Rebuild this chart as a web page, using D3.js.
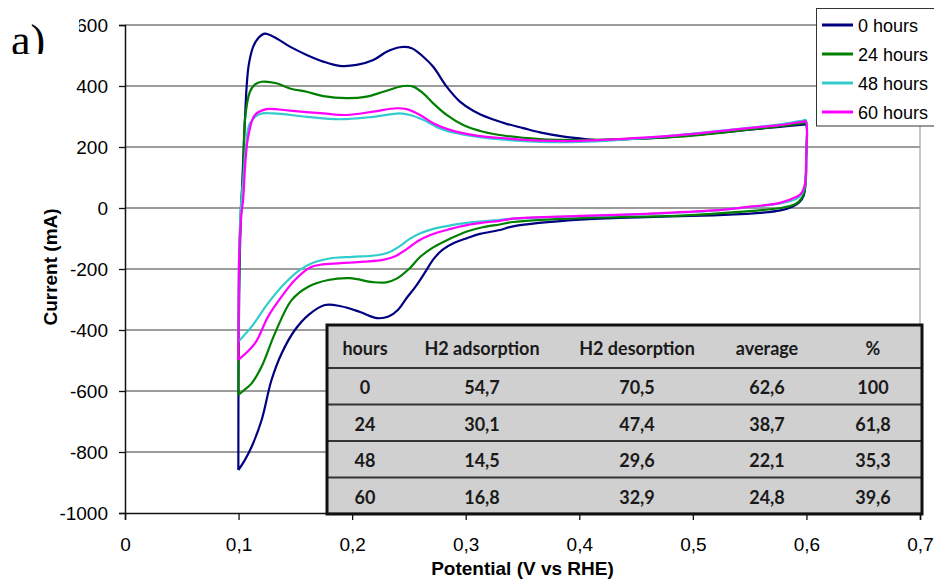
<!DOCTYPE html>
<html>
<head>
<meta charset="utf-8">
<script src="https://cdn.jsdelivr.net/npm/d3@7"></script>
<style>
  html, body { margin: 0; padding: 0; background: #fff; }
  svg { display: block; }
  .sans { font-family: "Liberation Sans", Arial, sans-serif; }
  .tbl { font-family: Lato, "Open Sans", sans-serif; font-weight: 700; }
</style>
</head>
<body>
<svg id="chart" width="934" height="579"></svg>
<script>
// Cyclic voltammograms: [potential (V vs RHE), current (mA)], anodic sweep then cathodic return
const seriesNames = ["0 hours", "24 hours", "48 hours", "60 hours"];
const seriesColors = ["#000080", "#008000", "#33CCCC", "#FF00FF"];

const cv0h = [
  [0.0998,-859],[0.1,-500],[0.1008,-200],[0.1018,-50],[0.1027,26],[0.104,150],[0.1056,289],[0.1071,398],
  [0.109,470],[0.1129,529],[0.118,560],[0.1232,572],[0.1335,556],[0.1452,529],[0.16,502],[0.1746,480],
  [0.189,466],[0.204,469],[0.2186,485],[0.2304,512],[0.242,527],[0.2524,524],[0.2626,496],[0.2714,463],
  [0.2832,398],[0.2949,349],[0.3066,319],[0.3213,294],[0.336,276],[0.3506,262],[0.3653,248],[0.385,235],
  [0.4005,228],[0.4152,223],[0.43,224],[0.459,228],[0.4886,236],[0.5179,245],[0.5473,256],[0.5766,266],
  [0.5971,273],[0.5995,274],[0.5997,150],[0.5992,80],[0.5975,40],[0.594,20],[0.588,5],[0.577,-8],
  [0.56,-16],[0.547,-19],[0.518,-24],[0.459,-30],[0.4005,-38],[0.3418,-60],[0.33,-72],[0.3125,-85],
  [0.301,-99],[0.29,-114],[0.28,-136],[0.272,-166],[0.264,-212],[0.256,-257],[0.248,-295],[0.24,-335],
  [0.232,-356],[0.222,-361],[0.207,-341],[0.19,-322],[0.176,-318],[0.1614,-351],[0.1496,-400],
  [0.138,-476],[0.129,-564],[0.1203,-695],[0.1115,-783],[0.105,-830],[0.0998,-859]
];

const cv24h = [
  [0.0998,-613],[0.1,-400],[0.1008,-150],[0.102,0],[0.1042,125],[0.1056,289],[0.11,381],[0.1145,405],
  [0.1203,414],[0.1335,409],[0.1452,392],[0.16,381],[0.1746,367],[0.195,360],[0.2128,365],[0.2274,381],
  [0.245,400],[0.2538,398],[0.2626,376],[0.2714,343],[0.2832,305],[0.2978,272],[0.3154,250],[0.336,236],
  [0.3653,226],[0.4,223],[0.43,225],[0.4886,234],[0.5473,256],[0.5766,268],[0.597,278],[0.5995,279],
  [0.5997,160],[0.5993,90],[0.598,50],[0.595,28],[0.59,12],[0.577,0],[0.547,-11],[0.4886,-25],
  [0.4005,-33],[0.3418,-46],[0.33,-54],[0.315,-63],[0.301,-77],[0.2855,-102],[0.271,-130],[0.26,-160],
  [0.25,-200],[0.24,-230],[0.23,-244],[0.218,-243],[0.198,-230],[0.179,-236],[0.1614,-258],[0.1467,-302],
  [0.132,-411],[0.1203,-520],[0.1115,-575],[0.104,-600],[0.0998,-613]
];

const cv48h = [
  [0.0998,-438],[0.1,-300],[0.1005,-150],[0.102,0],[0.1042,92],[0.1065,200],[0.11,278],[0.1188,308],
  [0.1306,310],[0.16,299],[0.189,291],[0.2186,299],[0.242,310],[0.2509,305],[0.2626,289],[0.2773,261],
  [0.292,245],[0.3125,232],[0.336,223],[0.3653,217],[0.4,217],[0.43,222],[0.4886,240],[0.5473,262],
  [0.5766,274],[0.597,287],[0.5995,288],[0.5998,170],[0.5995,100],[0.598,65],[0.595,42],[0.5913,30],
  [0.5766,15],[0.547,2],[0.518,-9],[0.459,-20],[0.4005,-27],[0.3418,-35],[0.33,-39],[0.301,-49],
  [0.282,-60],[0.27,-70],[0.26,-83],[0.25,-103],[0.242,-125],[0.232,-146],[0.222,-155],[0.2,-160],
  [0.183,-164],[0.165,-180],[0.154,-203],[0.1408,-247],[0.126,-312],[0.1115,-389],[0.0998,-438]
];

const cv60h = [
  [0.0998,-498],[0.1,-350],[0.1006,-150],[0.1025,-20],[0.104,26],[0.106,150],[0.1085,234],[0.1144,305],
  [0.1247,324],[0.1452,319],[0.1746,310],[0.195,305],[0.2186,316],[0.2392,327],[0.248,324],[0.2597,305],
  [0.2714,278],[0.2861,256],[0.3066,239],[0.336,228],[0.3653,221],[0.4,220],[0.43,225],[0.4886,239],
  [0.5473,261],[0.5766,272],[0.597,283],[0.5995,284],[0.5998,170],[0.5995,100],[0.598,68],[0.595,46],
  [0.5913,37],[0.5766,17],[0.547,3],[0.518,-8],[0.459,-19],[0.4005,-26],[0.3418,-35],[0.33,-42],
  [0.315,-48],[0.301,-56],[0.285,-70],[0.27,-87],[0.258,-108],[0.248,-135],[0.238,-158],[0.227,-170],
  [0.21,-176],[0.19,-181],[0.172,-186],[0.163,-195],[0.1496,-236],[0.139,-285],[0.126,-356],
  [0.1144,-444],[0.0998,-498]
];

const xTicks = [0, 0.1, 0.2, 0.3, 0.4, 0.5, 0.6, 0.7];
const yTicks = [-1000, -800, -600, -400, -200, 0, 200, 400, 600];

// Charge summary table
const tableHeader = ["hours", "H2 adsorption", "H2 desorption", "average", "%"];
const tableHours = ["0", "24", "48", "60"];
const tableAdsorption = ["54,7", "30,1", "14,5", "16,8"];
const tableDesorption = ["70,5", "47,4", "29,6", "32,9"];
const tableAverage = ["62,6", "38,7", "22,1", "24,8"];
const tablePercent = ["100", "61,8", "35,3", "39,6"];

const svg = d3.select("#chart");
const plot = { left: 125, right: 920, top: 25, bottom: 513 };

const x = d3.scaleLinear().domain([0, 0.7]).range([plot.left, plot.right]);
const y = d3.scaleLinear().domain([-1000, 600]).range([plot.bottom, plot.top]);
const comma = v => String(+v.toFixed(1)).replace(".", ",");

svg.append("rect").attr("width", 934).attr("height", 579).attr("fill", "#fff");

// horizontal gridlines
svg.append("g").selectAll("line").data(yTicks.filter(d => d > -1000)).join("line")
  .attr("x1", plot.left).attr("x2", plot.right)
  .attr("y1", d => y(d)).attr("y2", d => y(d))
  .attr("stroke", "#3a3a3a").attr("stroke-width", 1);

// right plot border
svg.append("line")
  .attr("x1", plot.right).attr("x2", plot.right)
  .attr("y1", plot.top).attr("y2", plot.bottom)
  .attr("stroke", "#a0a0a0").attr("stroke-width", 1.2);

// voltammogram traces
const line = d3.line().x(d => x(d[0])).y(d => y(d[1])).curve(d3.curveCatmullRom.alpha(0.5));
const allSeries = [cv0h, cv24h, cv48h, cv60h];
svg.append("g").selectAll("path").data(allSeries).join("path")
  .attr("d", line)
  .attr("fill", "none")
  .attr("stroke", (d, i) => seriesColors[i])
  .attr("stroke-width", 2.2)
  .attr("stroke-linejoin", "round");

// table overlay
const colCenters = [365, 482, 637, 767, 873];
const tbl = { left: 327, right: 922, top: 325, headH: 43, rowH: 36.5 };
const rowEdges = [tbl.top, tbl.top + tbl.headH];
for (let i = 1; i <= tableHours.length; i++) rowEdges.push(tbl.top + tbl.headH + i * tbl.rowH);
const tg = svg.append("g").attr("class", "tbl");
tg.append("rect")
  .attr("x", tbl.left).attr("y", tbl.top)
  .attr("width", tbl.right - tbl.left).attr("height", rowEdges[rowEdges.length - 1] - tbl.top)
  .attr("fill", "#d0d0d0");
tg.selectAll("line.sep").data(rowEdges.slice(1, -1)).join("line")
  .attr("class", "sep")
  .attr("x1", tbl.left).attr("x2", tbl.right)
  .attr("y1", d => d).attr("y2", d => d)
  .attr("stroke", "#333").attr("stroke-width", 2);
tg.append("rect")
  .attr("x", tbl.left).attr("y", tbl.top)
  .attr("width", tbl.right - tbl.left).attr("height", rowEdges[rowEdges.length - 1] - tbl.top)
  .attr("fill", "none").attr("stroke", "#111").attr("stroke-width", 3);

const tableRows = [tableHeader].concat(tableHours.map((h, i) =>
  [h, tableAdsorption[i], tableDesorption[i], tableAverage[i], tablePercent[i]]));
tableRows.forEach((row, r) => {
  const cy = (rowEdges[r] + rowEdges[r + 1]) / 2;
  tg.selectAll(null).data(row).join("text")
    .attr("x", (d, c) => colCenters[c])
    .attr("y", cy + 8)
    .attr("text-anchor", "middle")
    .attr("font-size", 18)
    .attr("fill", "#1a1a1a")
    .text(d => d);
});

// axes
const yAxis = d3.axisLeft(y).tickValues(yTicks).tickSize(6).tickPadding(11).tickFormat(d => String(d));
const xAxis = d3.axisBottom(x).tickValues(xTicks).tickSize(7).tickPadding(18).tickFormat(comma);

const gy = svg.append("g").attr("transform", `translate(${plot.left},0)`).call(yAxis);
const gx = svg.append("g").attr("transform", `translate(0,${plot.bottom})`).call(xAxis);
[gx, gy].forEach(g => {
  g.select(".domain").attr("stroke", "#111").attr("stroke-width", 1.5);
  g.selectAll(".tick line").attr("stroke", "#111").attr("stroke-width", 1.3);
  g.selectAll(".tick text")
    .attr("font-family", "'Liberation Sans', Arial, sans-serif")
    .attr("font-size", 19).attr("fill", "#000");
});
gy.selectAll(".tick text").attr("dy", "0.36em");

// axis titles
svg.append("text").attr("class", "sans")
  .attr("transform", "translate(57,267) rotate(-90)")
  .attr("text-anchor", "middle")
  .attr("font-size", 19).attr("font-weight", "bold")
  .text("Current (mA)");
svg.append("text").attr("class", "sans")
  .attr("x", (plot.left + plot.right) / 2).attr("y", 575)
  .attr("text-anchor", "middle")
  .attr("font-size", 19).attr("font-weight", "bold")
  .text("Potential (V vs RHE)");

// legend
const lg = svg.append("g").attr("class", "sans");
lg.append("rect").attr("x", 816.5).attr("y", 8.5).attr("width", 130).attr("height", 117.5)
  .attr("fill", "#fff").attr("stroke", "#333").attr("stroke-width", 1);
const legendRows = [25, 54, 83, 112];
seriesNames.forEach((name, i) => {
  lg.append("line").attr("x1", 822).attr("x2", 853)
    .attr("y1", legendRows[i]).attr("y2", legendRows[i])
    .attr("stroke", seriesColors[i]).attr("stroke-width", 3);
  lg.append("text").attr("x", 858).attr("y", legendRows[i] + 6.5)
    .attr("font-size", 18).attr("fill", "#000").text(name);
});

// panel label
svg.append("clipPath").attr("id", "panelClip")
  .append("rect").attr("x", 0).attr("y", 0).attr("width", 79).attr("height", 54);
const pl = svg.append("g").attr("clip-path", "url(#panelClip)");
pl.append("rect").attr("x", 0).attr("y", 0).attr("width", 79).attr("height", 54).attr("fill", "#fff");
pl.append("text").attr("x", 11).attr("y", 55)
  .attr("font-family", "'Liberation Serif', 'Times New Roman', serif")
  .attr("font-size", 44).attr("fill", "#000").text("a)");
</script>
</body>
</html>
